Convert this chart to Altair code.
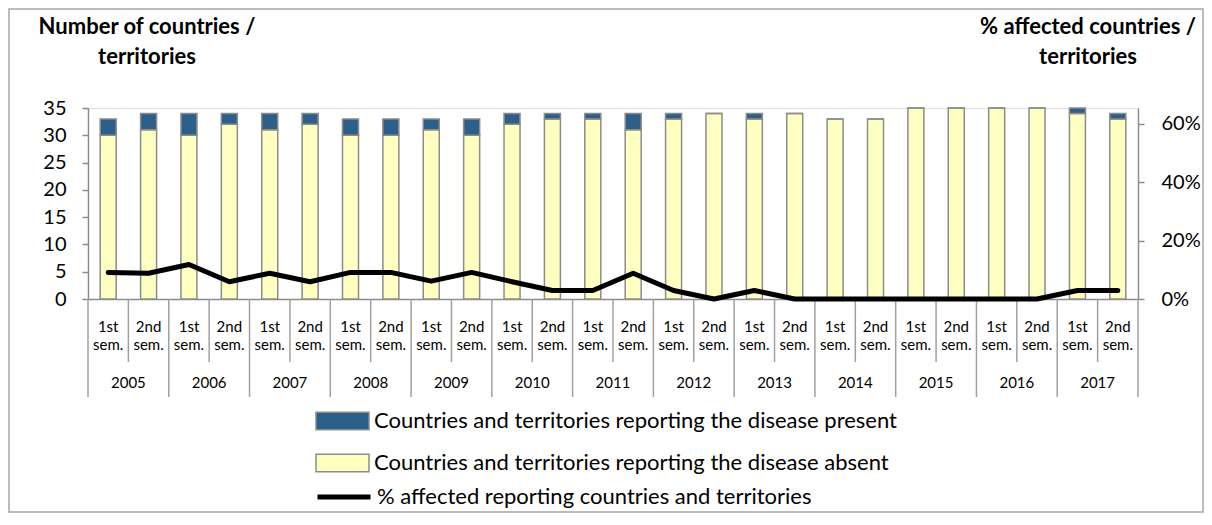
import altair as alt
import pandas as pd

# ---- data ----
years = [str(y) for y in range(2005, 2018)]
semesters = ["1st", "2nd"]
sem_label = ["1st\nsem.", "2nd\nsem."]
absent = [30, 31, 30, 32, 31, 32, 30, 30, 31, 30, 32, 33, 33, 31, 33, 34, 33, 34,
          33, 33, 35, 35, 35, 35, 34, 33]
present = [3, 3, 4, 2, 3, 2, 3, 3, 2, 3, 2, 1, 1, 3, 1, 0, 1, 0,
           0, 0, 0, 0, 0, 0, 1, 1]
pct_affected = [9.1, 8.8, 11.8, 5.9, 8.8, 5.9, 9.1, 9.1, 6.1, 9.1, 5.9, 2.9, 2.9, 8.8,
                2.9, 0.0, 2.9, 0.0, 0.0, 0.0, 0.0, 0.0, 0.0, 0.0, 2.9, 2.9]
left_ticks = [0, 5, 10, 15, 20, 25, 30, 35]
right_ticks = [0, 0.2, 0.4, 0.6]

L_PRESENT = "Countries and territories reporting the disease present"
L_ABSENT = "Countries and territories reporting the disease absent"
L_PCT = "% affected reporting countries and territories"

BLUE = "#2C5F8A"
YELLOW = "#FFFFC2"
GRAY = "#8C8C8C"
FONT = "Lato"

cats, cat_year, cat_sem, cat_lbl = [], [], [], []
for y in years:
    for s, l in zip(semesters, sem_label):
        cats.append(f"{y} {s}")
        cat_year.append(y)
        cat_sem.append(s)
        cat_lbl.append(l)

base_df = pd.DataFrame({"cat": cats, "year": cat_year, "sem": cat_sem, "lbl": cat_lbl,
                        "pct": [p / 100 for p in pct_affected],
                        "series": [L_PCT] * len(cats)})
base_df["last"] = [i == len(cats) - 1 for i in range(len(cats))]

bar_rows = []
for c, a, p in zip(cats, absent, present):
    bar_rows.append({"cat": c, "type": L_ABSENT, "value": a, "ord": 0})
    bar_rows.append({"cat": c, "type": L_PRESENT, "value": p, "ord": 1})
bar_df = pd.DataFrame(bar_rows)

W, H = 1050, 191
xscale = alt.Scale(domain=cats, paddingInner=0, paddingOuter=0)
X = alt.X("cat:N", scale=xscale, sort=cats,
          axis=alt.Axis(title=None, labels=False, ticks=False, domainColor=GRAY,
                        domainWidth=1.5, grid=False))

bars = alt.Chart(bar_df).mark_bar(size=16, stroke=GRAY, strokeWidth=1.5).encode(
    x=X,
    y=alt.Y("value:Q", stack="zero",
            scale=alt.Scale(domain=[0, 35], nice=False),
            axis=alt.Axis(title=None, values=left_ticks, grid=False, domainColor=GRAY,
                          domainWidth=1.5, tickColor=GRAY, tickWidth=1.5, tickSize=6,
                          labelPadding=16, labelFontSize=20, labelFont=FONT,
                          labelColor="black")),
    fill=alt.Fill("type:N",
                  scale=alt.Scale(domain=[L_PRESENT, L_ABSENT], range=[BLUE, YELLOW]),
                  legend=alt.Legend(title=None, orient="none", legendX=227, legendY=303,
                                    symbolType="M-1,-0.33H1V0.33H-1Z", symbolSize=2809,
                                    symbolStrokeColor=GRAY, symbolStrokeWidth=1.5,
                                    clipHeight=20, rowPadding=20, labelOffset=4,
                                    labelFontSize=22, labelFont=FONT, labelColor="black",
                                    labelLimit=900, padding=0)),
    order=alt.Order("ord:Q"),
)

line = alt.Chart(base_df).mark_line(strokeWidth=5, strokeCap="round",
                                    strokeJoin="round").encode(
    x=X,
    y=alt.Y("pct:Q", scale=alt.Scale(domain=[0, 0.653], nice=False),
            axis=alt.Axis(title=None, orient="right", values=right_ticks, format=".0%",
                          grid=False, domainColor=GRAY, domainWidth=1.5,
                          tickColor=GRAY, tickWidth=1.5, tickSize=6, labelPadding=17,
                          labelFontSize=20, labelFont=FONT, labelColor="black")),
    stroke=alt.Stroke("series:N", scale=alt.Scale(domain=[L_PCT], range=["black"]),
                      legend=alt.Legend(title=None, orient="none", legendX=227,
                                        legendY=379, symbolType="stroke",
                                        symbolSize=2809, symbolStrokeWidth=5,
                                        clipHeight=20, labelOffset=4,
                                        labelFontSize=22, labelFont=FONT,
                                        labelColor="black", labelLimit=900, padding=0)),
)

# category axis: semester labels, year labels and separators
sem_text = alt.Chart(base_df).mark_text(fontSize=15, font=FONT, color="black",
                                        lineBreak="\n", lineHeight=18,
                                        baseline="middle").encode(
    x=X, y=alt.value(219), text="lbl:N")

year_text = alt.Chart(base_df).transform_filter(alt.datum.sem == "1st").mark_text(
    fontSize=15, font=FONT, color="black", baseline="middle").encode(
    x=alt.X("cat:N", scale=xscale, sort=cats, bandPosition=1), y=alt.value(275),
    text="year:N")

short_rules = alt.Chart(base_df).transform_filter(alt.datum.sem == "2nd").mark_rule(
    color="#A0A0A0", strokeWidth=1.5).encode(
    x=alt.X("cat:N", scale=xscale, sort=cats, bandPosition=0),
    y=alt.value(H), y2=alt.value(H + 63))

year_rules = alt.Chart(base_df).transform_filter(alt.datum.sem == "1st").mark_rule(
    color="#A0A0A0", strokeWidth=1.5).encode(
    x=alt.X("cat:N", scale=xscale, sort=cats, bandPosition=0),
    y=alt.value(H), y2=alt.value(H + 98))

end_rule = alt.Chart(base_df).transform_filter(alt.datum.last).mark_rule(
    color="#A0A0A0", strokeWidth=1.5).encode(
    x=alt.X("cat:N", scale=xscale, sort=cats, bandPosition=1),
    y=alt.value(H), y2=alt.value(H + 98))

# axis titles
title_df = pd.DataFrame({"t": ["Number of countries /\nterritories",
                               "% affected countries /\nterritories"]})
left_title = alt.Chart(title_df).transform_filter(alt.datum.t[0] == "N").mark_text(
    fontSize=22, font=FONT, fontWeight="bold", color="black", lineBreak="\n",
    lineHeight=30, baseline="middle", align="center").encode(
    x=alt.value(59), y=alt.value(-81), text="t:N")
right_title = alt.Chart(title_df).transform_filter(alt.datum.t[0] == "%").mark_text(
    fontSize=22, font=FONT, fontWeight="bold", color="black", lineBreak="\n",
    lineHeight=30, baseline="middle", align="center").encode(
    x=alt.value(1000), y=alt.value(-81), text="t:N")

border = alt.Chart(pd.DataFrame({"a": [0]})).mark_rect(
    fillOpacity=0, stroke="#A6A6A6", strokeWidth=1.5).encode(
    x=alt.value(-79), x2=alt.value(W + 65), y=alt.value(-99), y2=alt.value(H + 213))

chart = alt.layer(
    border, short_rules, year_rules, end_rule, bars, line, sem_text, year_text,
    left_title, right_title
).resolve_scale(y="independent", fill="independent", stroke="independent").properties(
    width=W, height=H,
    autosize=alt.AutoSizeParams(type="none"),
    padding={"left": 80, "top": 100, "right": 66, "bottom": 214},
).configure_view(stroke=None).configure(background="white")

chart.save("out.html", embed_options={"renderer": "svg", "actions": False})
